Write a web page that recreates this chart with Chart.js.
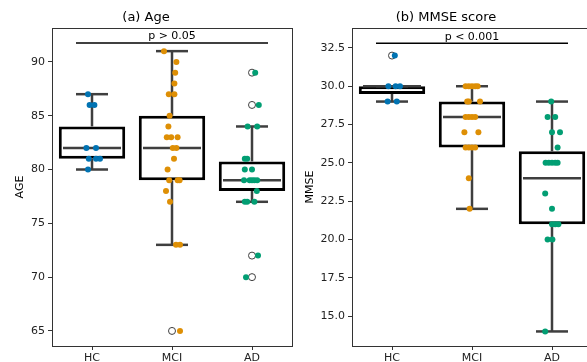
<!DOCTYPE html>
<html>
<head>
<meta charset="utf-8">
<script src="https://cdn.jsdelivr.net/npm/chart.js@4.4.0/dist/chart.umd.min.js"></script>
<style>
  html, body { margin: 0; padding: 0; background: #fff; }
  body { position: relative; width: 587px; height: 362px; overflow: hidden; }
  canvas { position: absolute; top: 0; }
  #ageChart { left: 0; }
  #mmseChart { left: 300px; }
</style>
</head>
<body>
<canvas id="ageChart" width="300" height="362"></canvas>
<canvas id="mmseChart" width="300" height="362"></canvas>
<script>
const groups = ['HC', 'MCI', 'AD'];
const groupColors = ['#0173b2', '#de8f05', '#029e73'];

// ---- (a) Age ----
const ageTicks = [65, 70, 75, 80, 85, 90];
const ageLow = [80, 73, 77];
const ageQ1 = [81, 79, 78];
const ageMedian = [82, 82, 79];
const ageQ3 = [84, 85, 80.75];
const ageHigh = [87, 91, 84];
const ageFliers = [[], [65], [89, 86, 72, 70]];

const ageHC = [87, 86, 86, 82, 82, 81, 81, 81, 80];
const ageHCJitter = [-0.05, -0.03, 0.03, -0.07, 0.05, -0.04, 0.05, 0.1, -0.05];
const ageMCI = [91, 90, 89, 88, 87, 87, 85, 84, 83, 83, 83, 82, 82, 81, 80, 79, 79, 79, 78, 77, 73, 73, 65];
const ageMCIJitter = [-0.1, 0.055, 0.04, 0.03, -0.04, 0.03, -0.03, -0.045, -0.065, -0.01, 0.07, 0.01, 0.055, 0.025, -0.055, -0.035, 0.07, 0.095, -0.075, -0.025, 0.05, 0.1, 0.1];
const ageAD = [89, 86, 84, 84, 81, 81, 80, 80, 79, 79, 79, 79, 79, 78, 77, 77, 77, 72, 70];
const ageADJitter = [0.04, 0.085, -0.055, 0.065, -0.09, -0.06, -0.09, 0, -0.1, -0.03, 0, 0.03, 0.065, 0.06, -0.09, -0.06, 0.03, 0.075, -0.075];

const ageSigLevel = 91.75;
const ageSigText = 'p > 0.05';

// ---- (b) MMSE score ----
const mmseTicks = [15, 17.5, 20, 22.5, 25, 27.5, 30, 32.5];
const mmseLow = [29, 22, 14];
const mmseQ1 = [29.5, 26, 21];
const mmseMedian = [30, 28, 24];
const mmseQ3 = [30, 29, 25.75];
const mmseHigh = [30, 30, 29];
const mmseFliers = [[32], [], []];

const mmseHC = [32, 30, 30, 30, 29, 29];
const mmseHCJitter = [0.035, -0.045, 0.045, 0.1, -0.055, 0.06];
const mmseMCI = [30, 30, 30, 30, 30, 29, 29, 29, 28, 28, 28, 28, 27, 27, 26, 26, 26, 26, 24, 22];
const mmseMCIJitter = [-0.08, -0.04, 0, 0.04, 0.07, -0.06, -0.04, 0.1, -0.08, -0.04, 0, 0.04, -0.095, 0.08, -0.08, -0.04, 0, 0.04, -0.04, -0.03];
const mmseAD = [29, 28, 28, 27, 27, 26, 25, 25, 25, 25, 25, 23, 22, 21, 21, 21, 20, 20, 14];
const mmseADJitter = [-0.01, -0.055, 0.04, 0, 0.1, 0.07, -0.08, -0.04, 0, 0.04, 0.07, -0.085, 0, 0, 0.04, 0.08, -0.055, 0.005, -0.085];

const mmseSigLevel = 32.8;
const mmseSigText = 'p < 0.001';

Chart.defaults.font.family = 'DejaVu Sans';
Chart.defaults.color = '#222';

// whiskers, caps and median lines, drawn right after the box bars
const boxDecor = {
    id: 'boxDecor',
    afterDatasetDraw(chart, args, opts) {
        if (args.index !== 0) return;
        const { ctx, scales: { x, y } } = chart;
        ctx.save();
        ctx.strokeStyle = '#3f3f3f';
        ctx.lineWidth = 2.5;
        const seg = (x1, y1, x2, y2) => {
            ctx.beginPath();
            ctx.moveTo(x1, y1);
            ctx.lineTo(x2, y2);
            ctx.stroke();
        };
        groups.forEach((g, i) => {
            const cx = x.getPixelForValue(i);
            const hw = x.getPixelForValue(i + 0.4) - cx;
            const cw = hw / 2;
            seg(cx, y.getPixelForValue(opts.q1[i]), cx, y.getPixelForValue(opts.low[i]));
            seg(cx, y.getPixelForValue(opts.q3[i]), cx, y.getPixelForValue(opts.high[i]));
            seg(cx - cw, y.getPixelForValue(opts.low[i]), cx + cw, y.getPixelForValue(opts.low[i]));
            seg(cx - cw, y.getPixelForValue(opts.high[i]), cx + cw, y.getPixelForValue(opts.high[i]));
            seg(cx - hw + 3, y.getPixelForValue(opts.median[i]), cx + hw - 3, y.getPixelForValue(opts.median[i]));
        });
        ctx.restore();
    }
};

// full frame and the significance bracket
const frameAndSig = {
    id: 'frameAndSig',
    afterDraw(chart, args, opts) {
        const { ctx, chartArea: a, scales: { x, y } } = chart;
        ctx.save();
        ctx.strokeStyle = '#333';
        ctx.lineWidth = 1;
        ctx.strokeRect(Math.round(a.left) + 0.5, Math.round(a.top) + 0.5,
            Math.round(a.right - a.left), Math.round(a.bottom - a.top));

        const ly = y.getPixelForValue(opts.level);
        ctx.strokeStyle = '#000';
        ctx.lineWidth = 1.5;
        ctx.beginPath();
        ctx.moveTo(x.getPixelForValue(-0.2), ly);
        ctx.lineTo(x.getPixelForValue(2.2), ly);
        ctx.stroke();

        ctx.fillStyle = '#000';
        ctx.font = '11px "DejaVu Sans"';
        ctx.textAlign = 'center';
        ctx.textBaseline = 'bottom';
        ctx.fillText(opts.text, x.getPixelForValue(1), ly - 1);
        ctx.restore();
    }
};

function buildChart(canvasId, p) {
    const ctx = document.getElementById(canvasId).getContext('2d');

    const datasets = [
        {
            type: 'bar',
            data: groups.map((g, i) => ({ x: i, y: [p.q1[i], p.q3[i]] })),
            backgroundColor: '#fff',
            borderColor: '#000',
            borderWidth: 3,
            borderSkipped: false,
            barPercentage: 0.83,
            categoryPercentage: 1,
            order: 3
        },
        {
            data: p.fliers.flatMap((vals, i) => vals.map(v => ({ x: i, y: v }))),
            pointRadius: 3.5,
            pointBackgroundColor: '#fff',
            pointBorderColor: '#3f3f3f',
            pointBorderWidth: 1,
            order: 2
        }
    ];

    p.points.forEach((vals, i) => {
        datasets.push({
            data: vals.map((v, k) => ({ x: i + p.jitter[i][k], y: v })),
            pointRadius: 3,
            pointBorderWidth: 0,
            pointBackgroundColor: groupColors[i],
            order: 1
        });
    });

    return new Chart(ctx, {
        type: 'scatter',
        data: { datasets: datasets },
        options: {
            responsive: false,
            animation: false,
            devicePixelRatio: 1,
            layout: { padding: { left: 0, right: 8, top: 0, bottom: 0 } },
            plugins: {
                legend: { display: false },
                tooltip: { enabled: false },
                title: {
                    display: true,
                    text: p.title,
                    color: '#000',
                    font: { size: 13, weight: 'normal' },
                    padding: { top: 10, bottom: 2.4 }
                },
                boxDecor: { q1: p.q1, q3: p.q3, low: p.low, high: p.high, median: p.median },
                frameAndSig: { level: p.sigLevel, text: p.sigText }
            },
            scales: {
                x: {
                    type: 'linear',
                    min: -0.5,
                    max: 2.5,
                    offset: false,
                    afterBuildTicks: scale => { scale.ticks = groups.map((g, i) => ({ value: i })); },
                    afterFit: scale => { scale.height = 16; },
                    ticks: {
                        callback: v => groups[v],
                        font: { size: 11 },
                        padding: 2,
                        maxRotation: 0
                    },
                    grid: { drawOnChartArea: false, tickLength: 4, color: '#333', offset: false },
                    border: { display: false }
                },
                y: {
                    type: 'linear',
                    min: p.yMin,
                    max: p.yMax,
                    afterBuildTicks: scale => { scale.ticks = p.ticks.map(v => ({ value: v })); },
                    afterFit: scale => { scale.width = 52; },
                    ticks: {
                        callback: p.tickFormat,
                        font: { size: 11 },
                        padding: 3
                    },
                    title: {
                        display: true,
                        text: p.yTitle,
                        color: '#000',
                        font: { size: 11 },
                        padding: { top: p.yTitlePad, bottom: 0 }
                    },
                    grid: { drawOnChartArea: false, tickLength: 4, color: '#333' },
                    border: { display: false }
                }
            }
        },
        plugins: [boxDecor, frameAndSig]
    });
}

buildChart('ageChart', {
    title: '(a) Age',
    yTitle: 'AGE',
    yTitlePad: 14,
    yMin: 63.6,
    yMax: 93.15,
    ticks: ageTicks,
    tickFormat: v => String(v),
    low: ageLow, q1: ageQ1, median: ageMedian, q3: ageQ3, high: ageHigh,
    fliers: ageFliers,
    points: [ageHC, ageMCI, ageAD],
    jitter: [ageHCJitter, ageMCIJitter, ageADJitter],
    sigLevel: ageSigLevel,
    sigText: ageSigText
});

buildChart('mmseChart', {
    title: '(b) MMSE score',
    yTitle: 'MMSE',
    yTitlePad: 4,
    yMin: 13.05,
    yMax: 33.8,
    ticks: mmseTicks,
    tickFormat: v => v.toFixed(1),
    low: mmseLow, q1: mmseQ1, median: mmseMedian, q3: mmseQ3, high: mmseHigh,
    fliers: mmseFliers,
    points: [mmseHC, mmseMCI, mmseAD],
    jitter: [mmseHCJitter, mmseMCIJitter, mmseADJitter],
    sigLevel: mmseSigLevel,
    sigText: mmseSigText
});
</script>
</body>
</html>
